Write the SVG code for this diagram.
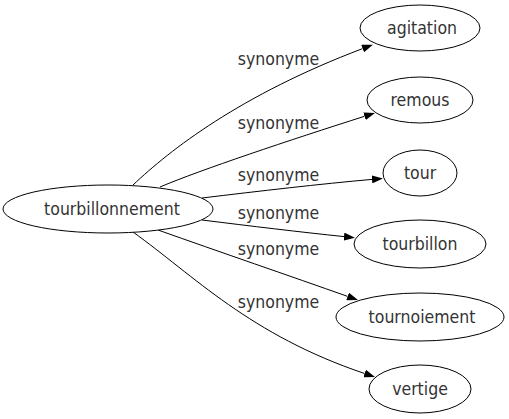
<svg xmlns="http://www.w3.org/2000/svg" width="509" height="419" viewBox="0 0 509 419">
<style>
.node ellipse{fill:#fff;stroke:#000;stroke-width:1}
text{font-family:"DejaVu Sans Condensed","DejaVu Sans","Liberation Sans",sans-serif;font-stretch:condensed;font-size:17.5px;fill:#333;text-anchor:middle}
.edge path{fill:none;stroke:#000;stroke-width:1}
</style>
<defs>
<marker id="arr" viewBox="0 0 11 8" refX="0" refY="4" markerUnits="userSpaceOnUse" markerWidth="11" markerHeight="8" orient="auto">
<path d="M0,0 L11,4 L0,8 Z" fill="#000"/>
</marker>
</defs>
<rect width="509" height="419" fill="#fff"/>
<g id="edges" class="edge">
<path d="M133,185 C170,150 240,95 362.6,48.6" marker-end="url(#arr)"/>
<path d="M160,187 C200,170 290,140 364.5,116.3" marker-end="url(#arr)"/>
<path d="M202,198 C260,191 320,184 372,179.4" marker-end="url(#arr)"/>
<path d="M202,220 C250,226 300,232 344,236.6" marker-end="url(#arr)"/>
<path d="M158,230 C220,252 290,276 347.6,296.4" marker-end="url(#arr)"/>
<path d="M133,232 C193,275 250,335 364.6,373.5" marker-end="url(#arr)"/>
<text x="278.5" y="65">synonyme</text>
<text x="278.5" y="129">synonyme</text>
<text x="278.5" y="181">synonyme</text>
<text x="278.5" y="219">synonyme</text>
<text x="278.5" y="255">synonyme</text>
<text x="278.5" y="308">synonyme</text>
</g>
<g id="n0" class="node"><ellipse cx="108" cy="209" rx="105" ry="24"/><text x="112" y="215">tourbillonnement</text></g>
<g id="n1" class="node"><ellipse cx="420" cy="28" rx="60" ry="23"/><text x="422" y="34">agitation</text></g>
<g id="n2" class="node"><ellipse cx="420" cy="100" rx="53" ry="23"/><text x="420" y="106">remous</text></g>
<g id="n3" class="node"><ellipse cx="420" cy="173" rx="37" ry="23"/><text x="420" y="179">tour</text></g>
<g id="n4" class="node"><ellipse cx="420" cy="244" rx="66" ry="24"/><text x="420" y="250">tourbillon</text></g>
<g id="n5" class="node"><ellipse cx="420" cy="317" rx="84" ry="24"/><text x="422" y="323">tournoiement</text></g>
<g id="n6" class="node"><ellipse cx="420" cy="389" rx="51" ry="24"/><text x="420" y="395">vertige</text></g>
</svg>
